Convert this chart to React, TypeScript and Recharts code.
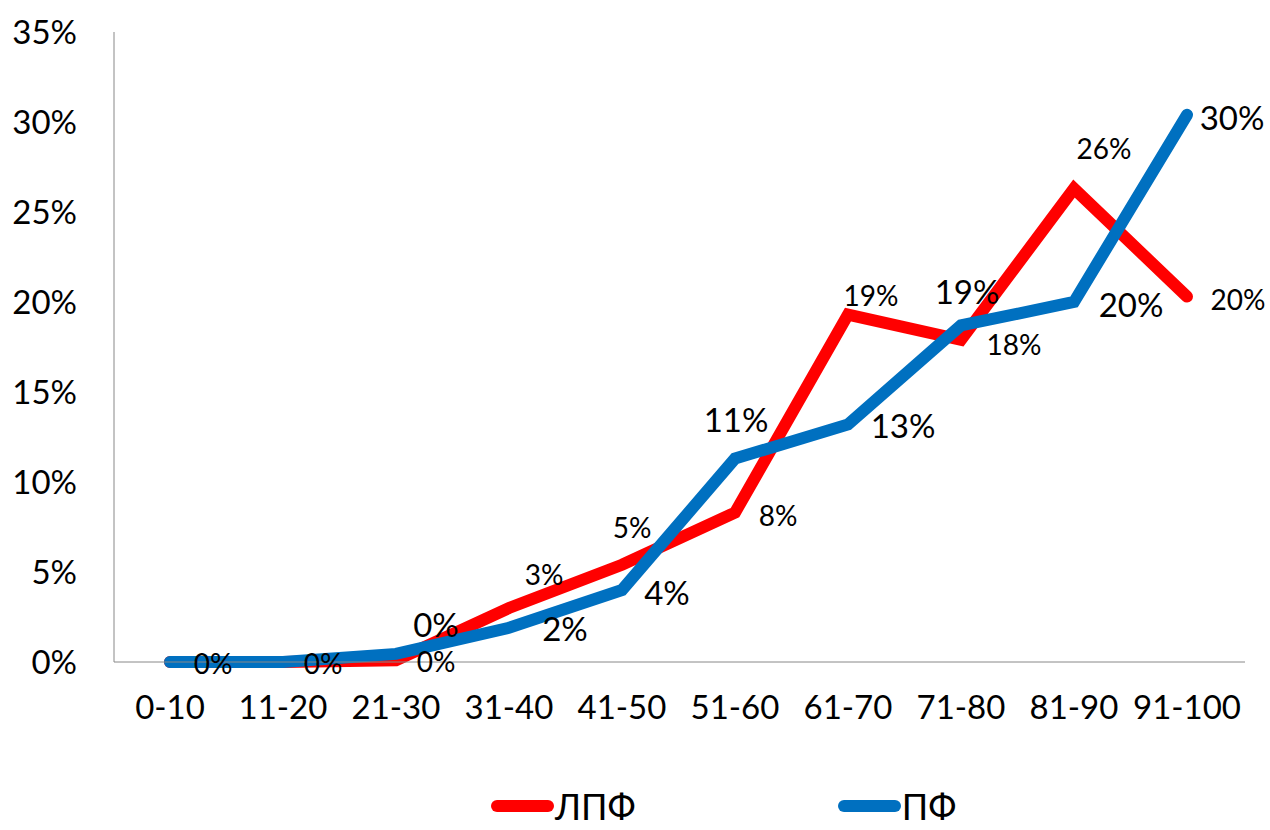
import React from 'react';
import { LineChart, Line, XAxis, YAxis, Legend, LabelList } from 'recharts';

const categories = ['0-10', '11-20', '21-30', '31-40', '41-50', '51-60', '61-70', '71-80', '81-90', '91-100'];
const lpfValues = [0, 0, 0.1, 3.0, 5.4, 8.3, 19.3, 17.9, 26.3, 20.3];
const pfValues = [0, 0, 0.45, 1.9, 4.0, 11.3, 13.2, 18.7, 20.0, 30.4];
const yTicks = [0, 5, 10, 15, 20, 25, 30, 35];

const data = categories.map((c, i) => ({ cat: c, lpf: lpfValues[i], pf: pfValues[i] }));

// label offsets from each point [dx, dy]; null = no label
const lpfLabelPos: ([number, number] | null)[] = [
  [43, 1], [40, 1], [40, 1], [35, -34], [10, -38], [43, 2], [23, -20], [53, 4], [30, -41], [51, 2],
];
const pfLabelPos: ([number, number] | null)[] = [
  null, null, [40, -30], [56, 0], [45, 2], [1, -40], [55, 1], [6, -34], [57, 2], [45, 2],
];

const FONT = 'Lato, "Open Sans", sans-serif';

const makeLabel = (pos: ([number, number] | null)[], size: number) => (props: any) => {
  const { x, y, index, value } = props;
  const p = pos[index];
  if (!p) return null;
  return (
    <text
      x={x + p[0]}
      y={y + p[1]}
      textAnchor="middle"
      dominantBaseline="central"
      fontSize={size}
      fontFamily={FONT}
      fill="#000"
    >
      {Math.round(value)}%
    </text>
  );
};

const renderLegend = () => (
  <div style={{ display: 'flex', alignItems: 'center', height: 44, lineHeight: '44px', fontFamily: FONT, fontSize: 36 }}>
    <span style={{ display: 'inline-block', width: 63, height: 12, borderRadius: 6, background: '#FF0000' }} />
    <span style={{ marginLeft: 1 }}>ЛПФ</span>
    <span style={{ display: 'inline-block', width: 63, height: 12, borderRadius: 6, background: '#0070C0', marginLeft: 202 }} />
    <span style={{ marginLeft: 1 }}>ПФ</span>
  </div>
);

export default function App() {
  return (
    <div style={{ width: 1270, height: 830, background: '#fff' }}>
      <style>{'body{margin:0}'}</style>
      <LineChart width={1270} height={830} data={data} margin={{ top: 32, right: 25, left: 0, bottom: 0 }}>
        <XAxis
          dataKey="cat"
          height={124}
          padding={{ left: 56, right: 58 }}
          tickLine={false}
          tickSize={0}
          tickMargin={34}
          stroke="#888"
          tick={{ fill: '#000', fontSize: 33, fontFamily: FONT }}
          interval={0}
        />
        <YAxis
          width={114}
          domain={[0, 35]}
          ticks={yTicks}
          tickFormatter={(v) => `${v}%`}
          tickLine={false}
          tickSize={0}
          tickMargin={37}
          stroke="#888"
          tick={{ fill: '#000', fontSize: 33, fontFamily: FONT }}
        />
        <Legend
          verticalAlign="bottom"
          content={renderLegend}
          wrapperStyle={{ left: 491, bottom: 2, width: 'auto' }}
        />
        <Line
          dataKey="lpf"
          name="ЛПФ"
          stroke="#FF0000"
          strokeWidth={12}
          strokeLinecap="round"
          dot={false}
          activeDot={false}
          isAnimationActive={false}
        >
          <LabelList dataKey="lpf" content={makeLabel(lpfLabelPos, 28)} />
        </Line>
        <Line
          dataKey="pf"
          name="ПФ"
          stroke="#0070C0"
          strokeWidth={12}
          strokeLinecap="round"
          dot={false}
          activeDot={false}
          isAnimationActive={false}
        >
          <LabelList dataKey="pf" content={makeLabel(pfLabelPos, 33)} />
        </Line>
      </LineChart>
    </div>
  );
}
